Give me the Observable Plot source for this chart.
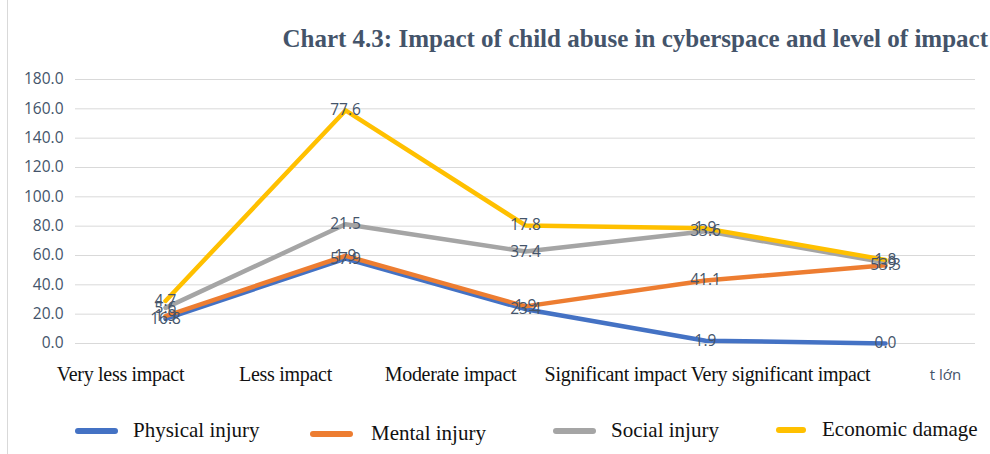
<!DOCTYPE html>
<html><head><meta charset="utf-8">
<script src="https://cdn.jsdelivr.net/npm/d3@7"></script>
<script src="https://cdn.jsdelivr.net/npm/@observablehq/plot@0.6"></script>
<style>
body{margin:0;background:#fff;}
#wrap{position:relative;width:990px;height:454px;overflow:hidden;background:#fff;}
#border{position:absolute;left:7px;top:0;bottom:0;width:0;border-left:1px solid #D9D9D9;}
#title{position:absolute;right:2px;top:25px;white-space:nowrap;font:bold 25px "Liberation Serif","Times New Roman",serif;color:#44546A;}
#main{position:absolute;left:0;top:0;}
#cats{position:absolute;left:0;top:353px;}
#cats text{letter-spacing:-0.3px;}
.leg{position:absolute;font:21px "Liberation Serif","Times New Roman",serif;color:#111;white-space:nowrap;line-height:1;}
.sw{position:absolute;height:6px;border-radius:3px;}
</style></head>
<body><div id="wrap"><div id="border"></div><div id="title"></div><div id="main"></div><div id="cats"></div><div id="legend"></div></div>
<script>
const titleText = "Chart 4.3: Impact of child abuse in cyberspace and level of impact";
const categories = ["Very less impact","Less impact","Moderate impact","Significant impact","Very significant impact"];
const extraLabel = "t lớn";
const seriesNames = ["Physical injury","Mental injury","Social injury","Economic damage"];
const physical = [16.8, 57.9, 23.4, 1.9, 0.0];
const mental   = [1.9, 1.9, 1.9, 41.1, 53.3];
const social   = [5.6, 21.5, 37.4, 33.6, 1.9];
const economic = [4.7, 77.6, 17.8, 1.9, 1.8];
const colors = ["#4472C4","#ED7D31","#A5A5A5","#FFC000"];
const yTicks = [0,20,40,60,80,100,120,140,160,180];

document.getElementById("title").textContent = titleText;

const series = [physical, mental, social, economic];
const rows = [];
categories.forEach((c,i)=>{
  let cum = 0;
  series.forEach((s,j)=>{ cum += s[i]; rows.push({category:c, series:seriesNames[j], value:s[i], cum}); });
});

const main = Plot.plot({
  width:990, height:400, marginLeft:75, marginRight:15, marginTop:79, marginBottom:57,
  style:{background:"transparent", overflow:"visible"},
  x:{type:"point", domain:categories, padding:0.5, axis:null},
  y:{domain:[0,180], axis:null},
  color:{domain:seriesNames, range:colors},
  marks:[
    Plot.gridY(yTicks, {stroke:"#D9D9D9", strokeOpacity:1, strokeWidth:1}),
    Plot.axisY(yTicks, {tickSize:0, tickPadding:12, tickFormat:d=>d.toFixed(1), fontSize:15.5, fontFamily:"'Open Sans', sans-serif", fill:"#44546A", label:null}),
    Plot.line(rows, {x:"category", y:"cum", z:"series", stroke:"series", strokeWidth:4.5, strokeLinecap:"round", strokeLinejoin:"round"}),
    Plot.text(rows, {x:"category", y:"cum", text:d=>d.value.toFixed(1), fill:"#44546A", fontSize:15.5, fontFamily:"'Open Sans', sans-serif"})
  ]
});
document.getElementById("main").appendChild(main);

const cats = Plot.plot({
  width:990, height:40, marginTop:10, marginBottom:30, marginLeft:0, marginRight:0,
  style:{background:"transparent", overflow:"visible"},
  x:{type:"point", domain:[...categories, extraLabel], range:[118,946], padding:0},
  marks:[
    Plot.axisX({tickSize:0, tickPadding:3, fontSize:20, fontFamily:"'Liberation Serif', 'Times New Roman', serif", fill:"#111", label:null})
  ]
});
document.getElementById("cats").appendChild(cats);
d3.select(cats).selectAll("text").filter(function(){return this.textContent===extraLabel;})
  .attr("font-family","'Open Sans', sans-serif").attr("font-size",15).attr("fill","#44546A").attr("dy","0.2em").style("letter-spacing","0");

const legendPos = [
  {sw:75, w:43, tx:133, y:431},
  {sw:310, w:43, tx:371, y:434},
  {sw:553, w:43, tx:611, y:431},
  {sw:776, w:30, tx:822, y:430}
];
const leg = document.getElementById("legend");
seriesNames.forEach((n,i)=>{
  const p = legendPos[i];
  const s = document.createElement("div"); s.className="sw";
  s.style.left=p.sw+"px"; s.style.width=p.w+"px"; s.style.top=(p.y-3)+"px"; s.style.background=colors[i];
  leg.appendChild(s);
  const t = document.createElement("div"); t.className="leg"; t.textContent=n;
  t.style.left=p.tx+"px"; t.style.top=(p.y-11)+"px";
  leg.appendChild(t);
});
</script></body></html>
